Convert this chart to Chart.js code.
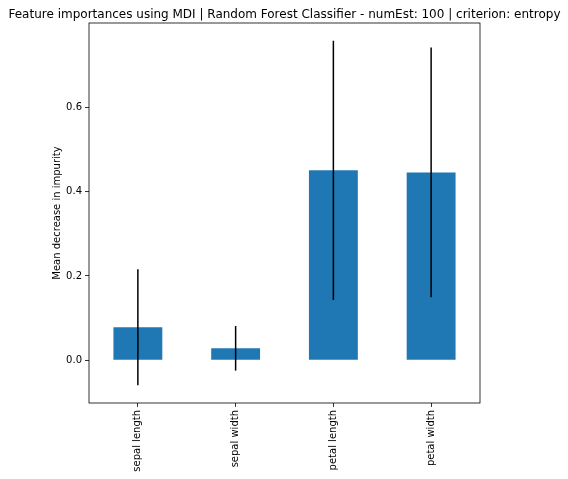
<!DOCTYPE html>
<html>
<head>
<meta charset="utf-8">
<script src="https://cdn.jsdelivr.net/npm/chart.js@4/dist/chart.umd.min.js"></script>
<style>
    html, body { margin: 0; padding: 0; background: #fff; }
    #wrap { width: 568px; height: 479px; }
</style>
</head>
<body>
<div id="wrap"><canvas id="chart" width="568" height="479"></canvas></div>
<script>
// Data
const features = ['sepal length', 'sepal width', 'petal length', 'petal width'];
const importances = [0.078, 0.028, 0.451, 0.446];
const stdDevs = [0.138, 0.053, 0.308, 0.297];
const yTicks = [0.0, 0.2, 0.4, 0.6];

const titleText = 'Feature importances using MDI | Random Forest Classifier - numEst: 100 | criterion: entropy';
const fontFamily = '"DejaVu Sans", sans-serif';

// Error bars + frame + title
const extrasPlugin = {
    id: 'extras',
    afterDatasetsDraw(chart) {
        const ctx = chart.ctx;
        const x = chart.scales.x;
        const y = chart.scales.y;
        ctx.save();
        ctx.strokeStyle = '#000';
        ctx.lineWidth = 1.5;
        importances.forEach((v, i) => {
            const px = x.getPixelForValue(i);
            ctx.beginPath();
            ctx.moveTo(px, y.getPixelForValue(v - stdDevs[i]));
            ctx.lineTo(px, y.getPixelForValue(v + stdDevs[i]));
            ctx.stroke();
        });
        ctx.restore();
    },
    afterDraw(chart) {
        const ctx = chart.ctx;
        const a = chart.chartArea;
        ctx.save();
        ctx.strokeStyle = '#000';
        ctx.lineWidth = 0.8;
        ctx.strokeRect(a.left, a.top, a.right - a.left, a.bottom - a.top);
        ctx.fillStyle = '#000';
        ctx.font = '12px ' + fontFamily;
        ctx.textAlign = 'center';
        ctx.textBaseline = 'alphabetic';
        ctx.fillText(titleText, (a.left + a.right) / 2, 18);
        ctx.restore();
    }
};

new Chart(document.getElementById('chart'), {
    type: 'bar',
    data: {
        labels: features,
        datasets: [{
            data: importances,
            backgroundColor: '#1f77b4',
            borderWidth: 0,
            categoryPercentage: 1.0,
            barPercentage: 0.5
        }]
    },
    options: {
        responsive: false,
        animation: false,
        devicePixelRatio: 1,
        layout: { padding: { left: 0, right: 88, top: 23, bottom: 0 } },
        plugins: {
            legend: { display: false },
            tooltip: { enabled: false },
            title: { display: false }
        },
        scales: {
            x: {
                grid: { display: true, offset: false, drawOnChartArea: false, drawTicks: true, tickLength: 4, color: '#000', lineWidth: 0.8 },
                border: { display: false },
                ticks: {
                    color: '#000',
                    font: { family: fontFamily, size: 10 },
                    maxRotation: 90,
                    minRotation: 90,
                    padding: 3
                },
                afterFit(scale) { scale.height = 76; }
            },
            y: {
                min: -0.102,
                max: 0.801,
                grid: { display: true, drawOnChartArea: false, drawTicks: true, tickLength: 4, color: '#000', lineWidth: 0.8 },
                border: { display: false },
                ticks: {
                    color: '#000',
                    font: { family: fontFamily, size: 10 },
                    padding: 3,
                    callback: v => v.toFixed(1)
                },
                afterBuildTicks(scale) {
                    scale.ticks = yTicks.map(v => ({ value: v }));
                },
                title: {
                    display: true,
                    text: 'Mean decrease in impurity',
                    color: '#000',
                    font: { family: fontFamily, size: 10 },
                    padding: { top: 51, bottom: 0 }
                },
                afterFit(scale) { scale.width = 89; }
            }
        }
    },
    plugins: [extrasPlugin]
});
</script>
</body>
</html>
